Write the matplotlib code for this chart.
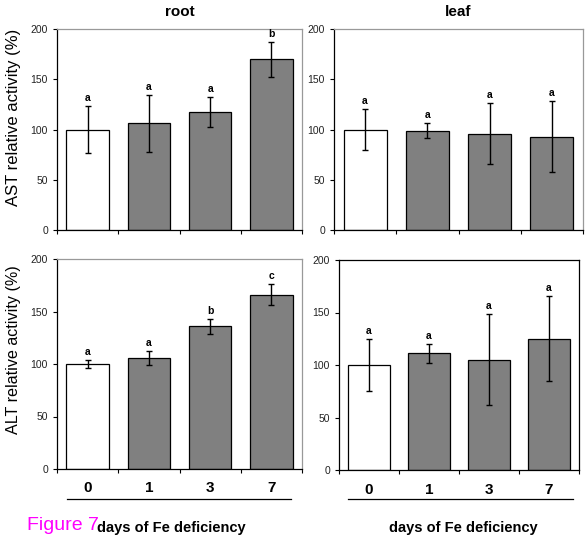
import numpy as np
import matplotlib.pyplot as plt

plt.rcParams['font.family'] = ['Liberation Sans', 'DejaVu Sans']

days = ['0', '1', '3', '7']

ast_root = [100, 106, 117, 170]
ast_root_err = [23, 28, 15, 17.5]
ast_root_sig = ['a', 'a', 'a', 'b']

ast_leaf = [100, 99, 96, 93]
ast_leaf_err = [20, 7, 30.5, 35]
ast_leaf_sig = ['a', 'a', 'a', 'a']

alt_root = [100, 106, 136, 166]
alt_root_err = [3.5, 6.5, 7, 10]
alt_root_sig = ['a', 'a', 'b', 'c']

alt_leaf = [100, 111, 105, 125]
alt_leaf_err = [25, 9, 43.5, 40.5]
alt_leaf_sig = ['a', 'a', 'a', 'a']

W, H = 585, 536
fig = plt.figure(figsize=(W / 100, H / 100), dpi=100)


def px_axes(left, right, top, bottom):
    return fig.add_axes([left / W, 1 - bottom / H, (right - left) / W, (bottom - top) / H])


def panel(ax, vals, errs, sig, frame_col, show_x):
    x = np.arange(len(vals))
    colors = ['white'] + ['#808080'] * (len(vals) - 1)
    ax.bar(x, vals, width=0.69, color=colors, edgecolor='black', linewidth=0.9, zorder=2)
    ax.errorbar(x, vals, yerr=errs, fmt='none', ecolor='black', elinewidth=1,
                capsize=2.5, capthick=1, zorder=3)
    for xi, v, e, s in zip(x, vals, errs, sig):
        ax.text(xi, v + e + 3, s, ha='center', va='bottom', fontsize=7.5, fontweight='bold')
    ax.set_xlim(-0.5, 3.5)
    ax.set_ylim(0, 200)
    ax.set_yticks([0, 50, 100, 150, 200])
    ax.tick_params(axis='y', labelsize=7.5, length=3, width=0.8, colors='black', labelcolor='#222222')
    ax.set_xticks([-0.5, 0.5, 1.5, 2.5, 3.5], minor=True)
    ax.tick_params(axis='x', which='minor', length=3, width=0.8)
    if show_x:
        ax.set_xticks(x)
        ax.set_xticklabels(days, fontsize=11, fontweight='bold')
        ax.tick_params(axis='x', which='major', length=0, pad=9)
    else:
        ax.set_xticks([])
    for side in ['left', 'bottom']:
        ax.spines[side].set_color('black')
        ax.spines[side].set_linewidth(0.9)
    for side in ['top', 'right']:
        ax.spines[side].set_color(frame_col)
        ax.spines[side].set_linewidth(0.9)


ax1 = px_axes(57, 302, 29, 230)
panel(ax1, ast_root, ast_root_err, ast_root_sig, '#999999', False)
ax1.set_title('root', fontsize=11, fontweight='bold', pad=9)

ax2 = px_axes(334, 583, 29, 230)
panel(ax2, ast_leaf, ast_leaf_err, ast_leaf_sig, '#999999', False)
ax2.set_title('leaf', fontsize=11, fontweight='bold', pad=9)

ax3 = px_axes(57, 302, 259, 469)
panel(ax3, alt_root, alt_root_err, alt_root_sig, '#999999', True)

ax4 = px_axes(339, 579, 260, 470)
panel(ax4, alt_leaf, alt_leaf_err, alt_leaf_sig, 'black', True)

fig.text(14 / W, 1 - 117 / H, 'AST relative activity (%)', rotation=90,
         ha='center', va='center', fontsize=12)
fig.text(14 / W, 1 - 350 / H, 'ALT relative activity (%)', rotation=90,
         ha='center', va='center', fontsize=11.6)

# underline below the day numbers
fig.add_artist(plt.Line2D([67 / W, 291 / W], [1 - 499 / H, 1 - 499 / H], color='black', lw=0.9))
fig.add_artist(plt.Line2D([348 / W, 573 / W], [1 - 499 / H, 1 - 499 / H], color='black', lw=0.9))

fig.text(27 / W, 1 - 526 / H, 'Figure 7', color='#ff00ff', fontsize=14, ha='left', va='center')
fig.text(97 / W, 1 - 528 / H, 'days of Fe deficiency', fontsize=10.5, fontweight='bold',
         ha='left', va='center')
fig.text(463 / W, 1 - 528 / H, 'days of Fe deficiency', fontsize=10.5, fontweight='bold',
         ha='center', va='center')

fig.savefig('out.png', dpi=100)
